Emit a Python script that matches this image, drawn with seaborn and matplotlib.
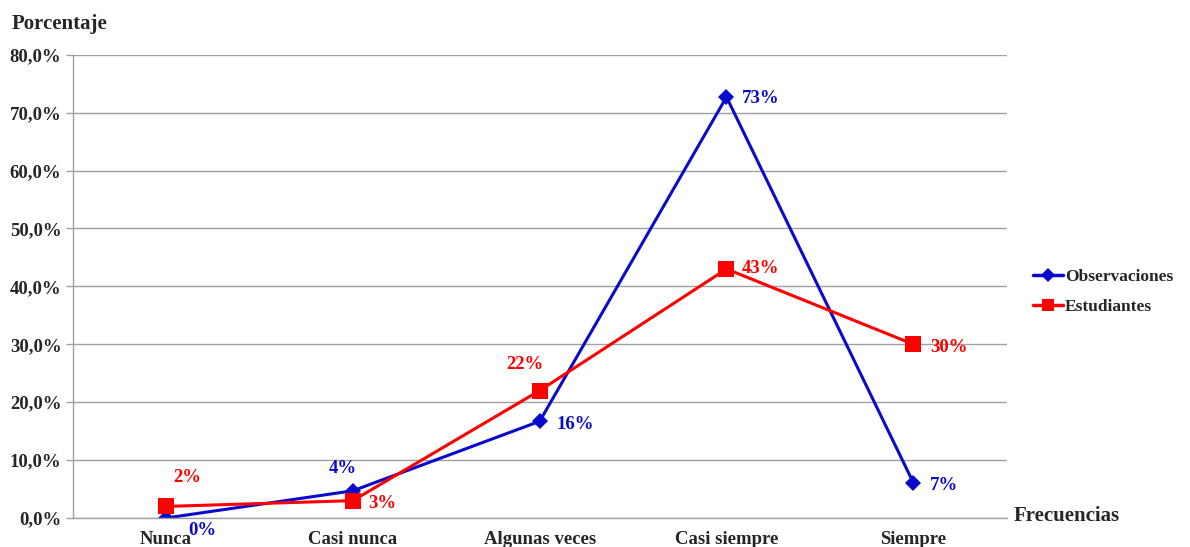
import pandas as pd
import matplotlib.pyplot as plt
import seaborn as sns
from matplotlib.ticker import FuncFormatter

# valores (porcentaje)
frecuencias = ['Nunca', 'Casi nunca', 'Algunas veces', 'Casi siempre', 'Siempre']
observaciones = [0.0, 4.7, 16.7, 72.7, 6.1]
estudiantes = [2.0, 3.0, 22.0, 43.0, 30.0]
etiquetas_obs = ['0%', '4%', '16%', '73%', '7%']
etiquetas_est = ['2%', '3%', '22%', '43%', '30%']

df = pd.DataFrame({'Frecuencias': frecuencias,
                   'Observaciones': observaciones,
                   'Estudiantes': estudiantes})
df_long = df.melt(id_vars='Frecuencias', var_name='Serie', value_name='Porcentaje')

sns.set_theme(style='white')
plt.rcParams['font.family'] = ['Liberation Serif', 'DejaVu Serif']
plt.rcParams['font.weight'] = 'bold'

azul = '#0A0ACC'
rojo = '#FF0000'
fs = 13.5

fig, ax = plt.subplots(figsize=(11.9, 5.47), dpi=100)
fig.subplots_adjust(left=0.061, right=0.846, top=0.9, bottom=0.053)

sns.lineplot(data=df_long, x='Frecuencias', y='Porcentaje', hue='Serie', style='Serie',
             markers={'Observaciones': 'D', 'Estudiantes': 's'}, dashes=False,
             palette={'Observaciones': azul, 'Estudiantes': rojo},
             linewidth=2.2, markersize=10, markeredgewidth=0, sort=False, ax=ax)
for ln in ax.lines:
    if ln.get_marker() == 's':
        ln.set_markersize(11.5)
    elif ln.get_marker() == 'D':
        ln.set_markersize(8.5)

ax.set_xlim(-0.5, 4.5)
ax.set_ylim(0, 80)
ax.set_yticks(range(0, 81, 10))
ax.yaxis.set_major_formatter(FuncFormatter(lambda v, p: f'{v:.1f}%'.replace('.', ',')))
ax.yaxis.grid(True, color='#A0A0A0', linewidth=1)
ax.set_axisbelow(True)
ax.set_xlabel('')
ax.set_ylabel('')

# marcas en los limites de categoria
ax.set_xticks([i - 0.5 for i in range(6)], minor=True)
ax.tick_params(axis='x', which='minor', length=5, color='#A0A0A0', width=1, direction='out')
ax.tick_params(axis='x', which='major', length=0, labelsize=fs, pad=9)
ax.tick_params(axis='y', length=5, color='#A0A0A0', width=1, labelsize=fs, pad=3, left=True)
for lab in ax.get_xticklabels() + ax.get_yticklabels():
    lab.set_fontweight('bold')

for s in ['top', 'right']:
    ax.spines[s].set_visible(False)
for s in ['left', 'bottom']:
    ax.spines[s].set_color('#A0A0A0')
    ax.spines[s].set_linewidth(1)

# etiquetas de datos
off_obs = [(16, -9), (-7, 16), (12, -2), (11, -1), (12, -2)]
off_est = [(5, 21), (11, -2), (-11, 19), (11, 0), (12, -2)]
for i, (v, t) in enumerate(zip(observaciones, etiquetas_obs)):
    ax.annotate(t, (i, v), xytext=off_obs[i], textcoords='offset points',
                color=azul, fontsize=fs, fontweight='bold',
                ha='left' if off_obs[i][0] > 0 else 'center', va='center')
for i, (v, t) in enumerate(zip(estudiantes, etiquetas_est)):
    ax.annotate(t, (i, v), xytext=off_est[i], textcoords='offset points',
                color=rojo, fontsize=fs, fontweight='bold',
                ha='left' if off_est[i][0] > 0 else 'center', va='center')

fig.text(0.01, 0.957, 'Porcentaje', fontsize=15, fontweight='bold', va='center')
fig.text(0.852, 0.057, 'Frecuencias', fontsize=15, fontweight='bold', va='center')

leg = ax.legend(loc='center left', bbox_to_anchor=(1.028, 0.487), frameon=False,
                fontsize=12.5, handlelength=1.75, handletextpad=0.1, labelspacing=0.8,
                borderpad=0, borderaxespad=0)
for t in leg.get_texts():
    t.set_fontweight('bold')
for h in leg.legend_handles:
    h.set_linewidth(2.5)
    h.set_markersize(7 if h.get_marker() == 'D' else 9)

fig.savefig('out.png', dpi=100)
